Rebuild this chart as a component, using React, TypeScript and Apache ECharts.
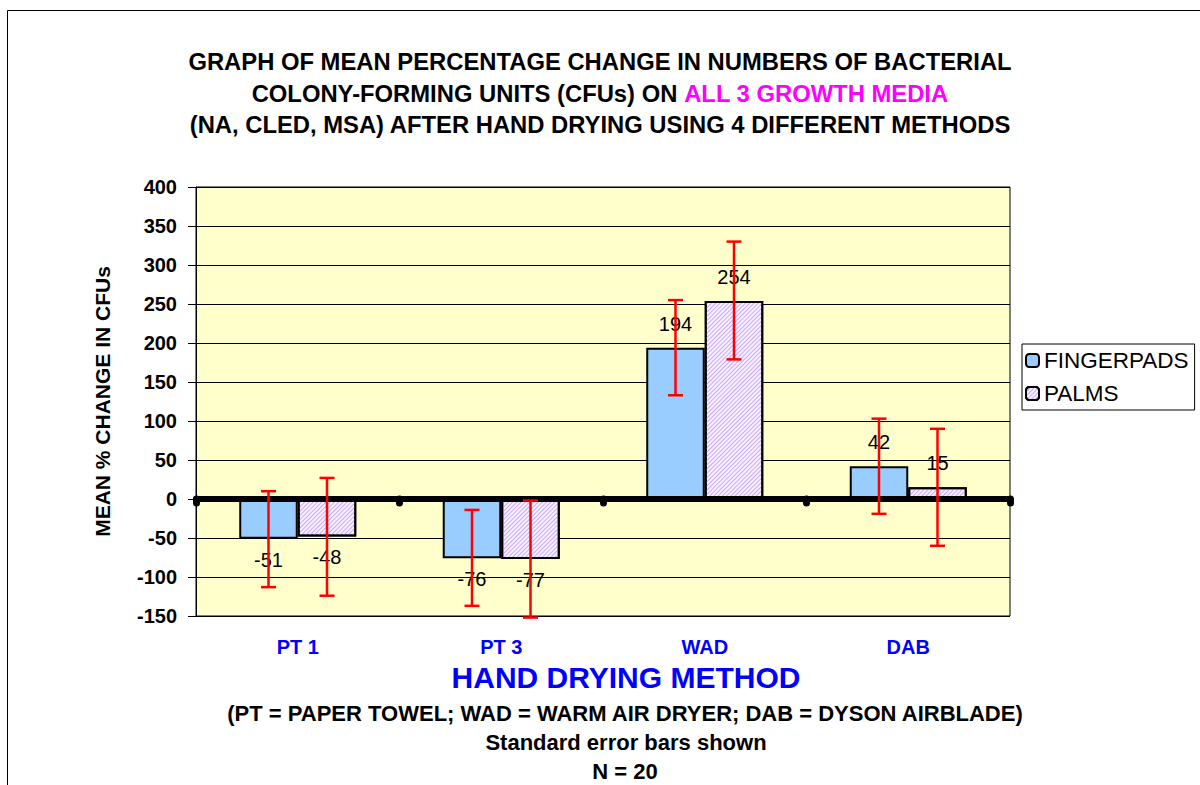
import React, { useEffect, useRef } from "react";
import * as echarts from "echarts";

const categories = ["PT 1", "PT 3", "WAD", "DAB"];
const fingerpads = [-51, -76, 194, 42];
const palms = [-48, -77, 254, 15];
// standard error bar ends (low, high)
const fingerpadsLow = [-113, -137, 133, -19];
const fingerpadsHigh = [10, -14, 255, 103];
const palmsLow = [-124, -152, 179, -60];
const palmsHigh = [27, -2, 330, 90];
const yTicks = { min: -150, max: 400, interval: 50 };

const FONT = "'Liberation Sans', Arial, sans-serif";
const GAP = 0.425;

function errorSeries(name: string, low: number[], high: number[], side: number) {
  return {
    type: "custom",
    name: name + " SE",
    xAxisIndex: 0,
    yAxisIndex: 0,
    z: 10,
    clip: false,
    silent: true,
    data: low.map((l, i) => [i, l, high[i]]),
    renderItem: (params: any, api: any) => {
      const idx = api.value(0);
      const lo = api.value(1);
      const hi = api.value(2);
      const pHi = api.coord([idx, hi]);
      const pLo = api.coord([idx, lo]);
      const band = api.size([1, 0])[0];
      const barW = (band * (1 - GAP)) / 2;
      const cx = pHi[0] + (side * barW) / 2;
      const cap = 7.5;
      const style = { stroke: "#FF0000", lineWidth: 2.5 };
      return {
        type: "group",
        children: [
          { type: "line", shape: { x1: cx, y1: pHi[1], x2: cx, y2: pLo[1] }, style },
          { type: "line", shape: { x1: cx - cap, y1: pHi[1], x2: cx + cap, y2: pHi[1] }, style },
          { type: "line", shape: { x1: cx - cap, y1: pLo[1], x2: cx + cap, y2: pLo[1] }, style },
        ],
      };
    },
  };
}

function barData(vals: number[]) {
  return vals.map((v) => ({
    value: v,
    label: { position: v < 0 ? "bottom" : "top", distance: v < 0 ? 11 : 14 },
  }));
}

export default function App() {
  const ref = useRef<HTMLDivElement>(null);
  useEffect(() => {
    if (!ref.current) return;
    const chart = echarts.init(ref.current, null, { renderer: "svg" });
    const labelStyle = {
      show: true,
      fontSize: 20,
      color: "#000",
      fontFamily: FONT,
    };
    chart.setOption({
      animation: false,
      backgroundColor: "#FFFFFF",
      title: {
        left: "center",
        top: 41,
        text:
          "{a|GRAPH OF MEAN PERCENTAGE CHANGE IN NUMBERS OF BACTERIAL}\n{a|COLONY-FORMING UNITS (CFUs) ON }{m|ALL 3 GROWTH MEDIA}\n{a|(NA, CLED, MSA) AFTER HAND DRYING USING 4 DIFFERENT METHODS}",
        textStyle: {
          rich: {
            a: { fontSize: 23.8, fontWeight: "bold", color: "#000", fontFamily: FONT, lineHeight: 31.5 },
            m: { fontSize: 23.8, fontWeight: "bold", color: "#FF00FF", fontFamily: FONT, lineHeight: 31.5 },
          },
        },
      },
      legend: {
        orient: "vertical",
        left: 1022,
        top: 344,
        padding: [3, 6, 3, 3],
        itemGap: 6,
        itemWidth: 13,
        itemHeight: 13,
        borderColor: "#000",
        borderWidth: 1,
        backgroundColor: "#FFFFFF",
        data: ["FINGERPADS", "PALMS"],
        textStyle: { fontSize: 22.5, color: "#000", fontFamily: FONT, lineHeight: 27 },
      },
      grid: {
        left: 196,
        top: 187,
        width: 814,
        height: 429,
        show: true,
        backgroundColor: "#FFFFCC",
        borderColor: "#000",
        borderWidth: 1,
      },
      xAxis: [
        {
          type: "category",
          data: categories,
          position: "bottom",
          axisLine: { show: true, onZero: true, lineStyle: { color: "#000", width: 6, cap: "round" } },
          axisTick: { show: true, length: 4, lineStyle: { color: "#000", width: 7, cap: "round" } },
          axisLabel: { show: false },
          splitLine: { show: false },
          z: 5,
        },
        {
          type: "category",
          data: categories,
          position: "bottom",
          axisLine: { show: false, onZero: false },
          axisTick: { show: false },
          axisLabel: {
            show: true,
            margin: 21,
            fontSize: 20,
            fontWeight: "bold",
            color: "#0000FF",
            fontFamily: FONT,
          },
          splitLine: { show: false },
        },
      ],
      yAxis: {
        type: "value",
        min: yTicks.min,
        max: yTicks.max,
        interval: yTicks.interval,
        name: "MEAN % CHANGE IN CFUs",
        nameLocation: "middle",
        nameGap: 83,
        nameRotate: 90,
        nameTextStyle: { fontSize: 21, fontWeight: "bold", color: "#000", fontFamily: FONT },
        axisLine: { show: true, lineStyle: { color: "#000", width: 1 } },
        axisTick: { show: true, length: 8, lineStyle: { color: "#000" } },
        axisLabel: { margin: 19, fontSize: 20, fontWeight: "bold", color: "#000", fontFamily: FONT },
        splitLine: { show: true, lineStyle: { color: "#000", width: 1 } },
      },
      series: [
        {
          type: "bar",
          name: "FINGERPADS",
          data: barData(fingerpads),
          barGap: "0%",
          barCategoryGap: GAP * 100 + "%",
          itemStyle: { color: "#99CCFF", borderColor: "#000", borderWidth: 2 },
          label: labelStyle,
          z: 3,
        },
        {
          type: "bar",
          name: "PALMS",
          data: barData(palms),
          barGap: "0%",
          barCategoryGap: GAP * 100 + "%",
          itemStyle: {
            color: "#F8F2FF",
            borderColor: "#000",
            borderWidth: 2,
            decal: {
              symbol: "rect",
              symbolSize: 1,
              color: "#C9A6FF",
              dashArrayX: [1, 0],
              dashArrayY: [1, 2],
              rotation: -Math.PI / 4,
            },
          },
          label: labelStyle,
          z: 3,
        },
        errorSeries("FINGERPADS", fingerpadsLow, fingerpadsHigh, -1),
        errorSeries("PALMS", palmsLow, palmsHigh, 1),
      ],
      graphic: [
        {
          type: "rect",
          shape: { x: 7.5, y: 10.5, width: 1300, height: 900 },
          style: { fill: "none", stroke: "#000", lineWidth: 1 },
          silent: true,
          z: -10,
        },
        {
          type: "text",
          x: 626,
          y: 677,
          style: {
            text: "HAND DRYING METHOD",
            fill: "#0000FF",
            font: "bold 30px " + FONT,
            align: "center",
            verticalAlign: "middle",
          },
        },
        {
          type: "text",
          x: 625,
          y: 713,
          style: {
            text: "(PT = PAPER TOWEL; WAD = WARM AIR DRYER; DAB = DYSON AIRBLADE)",
            fill: "#000",
            font: "bold 22px " + FONT,
            align: "center",
            verticalAlign: "middle",
          },
        },
        {
          type: "text",
          x: 626,
          y: 742,
          style: {
            text: "Standard error bars shown",
            fill: "#000",
            font: "bold 22px " + FONT,
            align: "center",
            verticalAlign: "middle",
          },
        },
        {
          type: "text",
          x: 625,
          y: 771,
          style: {
            text: "N = 20",
            fill: "#000",
            font: "bold 22px " + FONT,
            align: "center",
            verticalAlign: "middle",
          },
        },
      ],
    });
    return () => chart.dispose();
  }, []);
  return (
    <div
      ref={ref}
      style={{ position: "absolute", left: 0, top: 0, width: 1200, height: 785 }}
    />
  );
}
